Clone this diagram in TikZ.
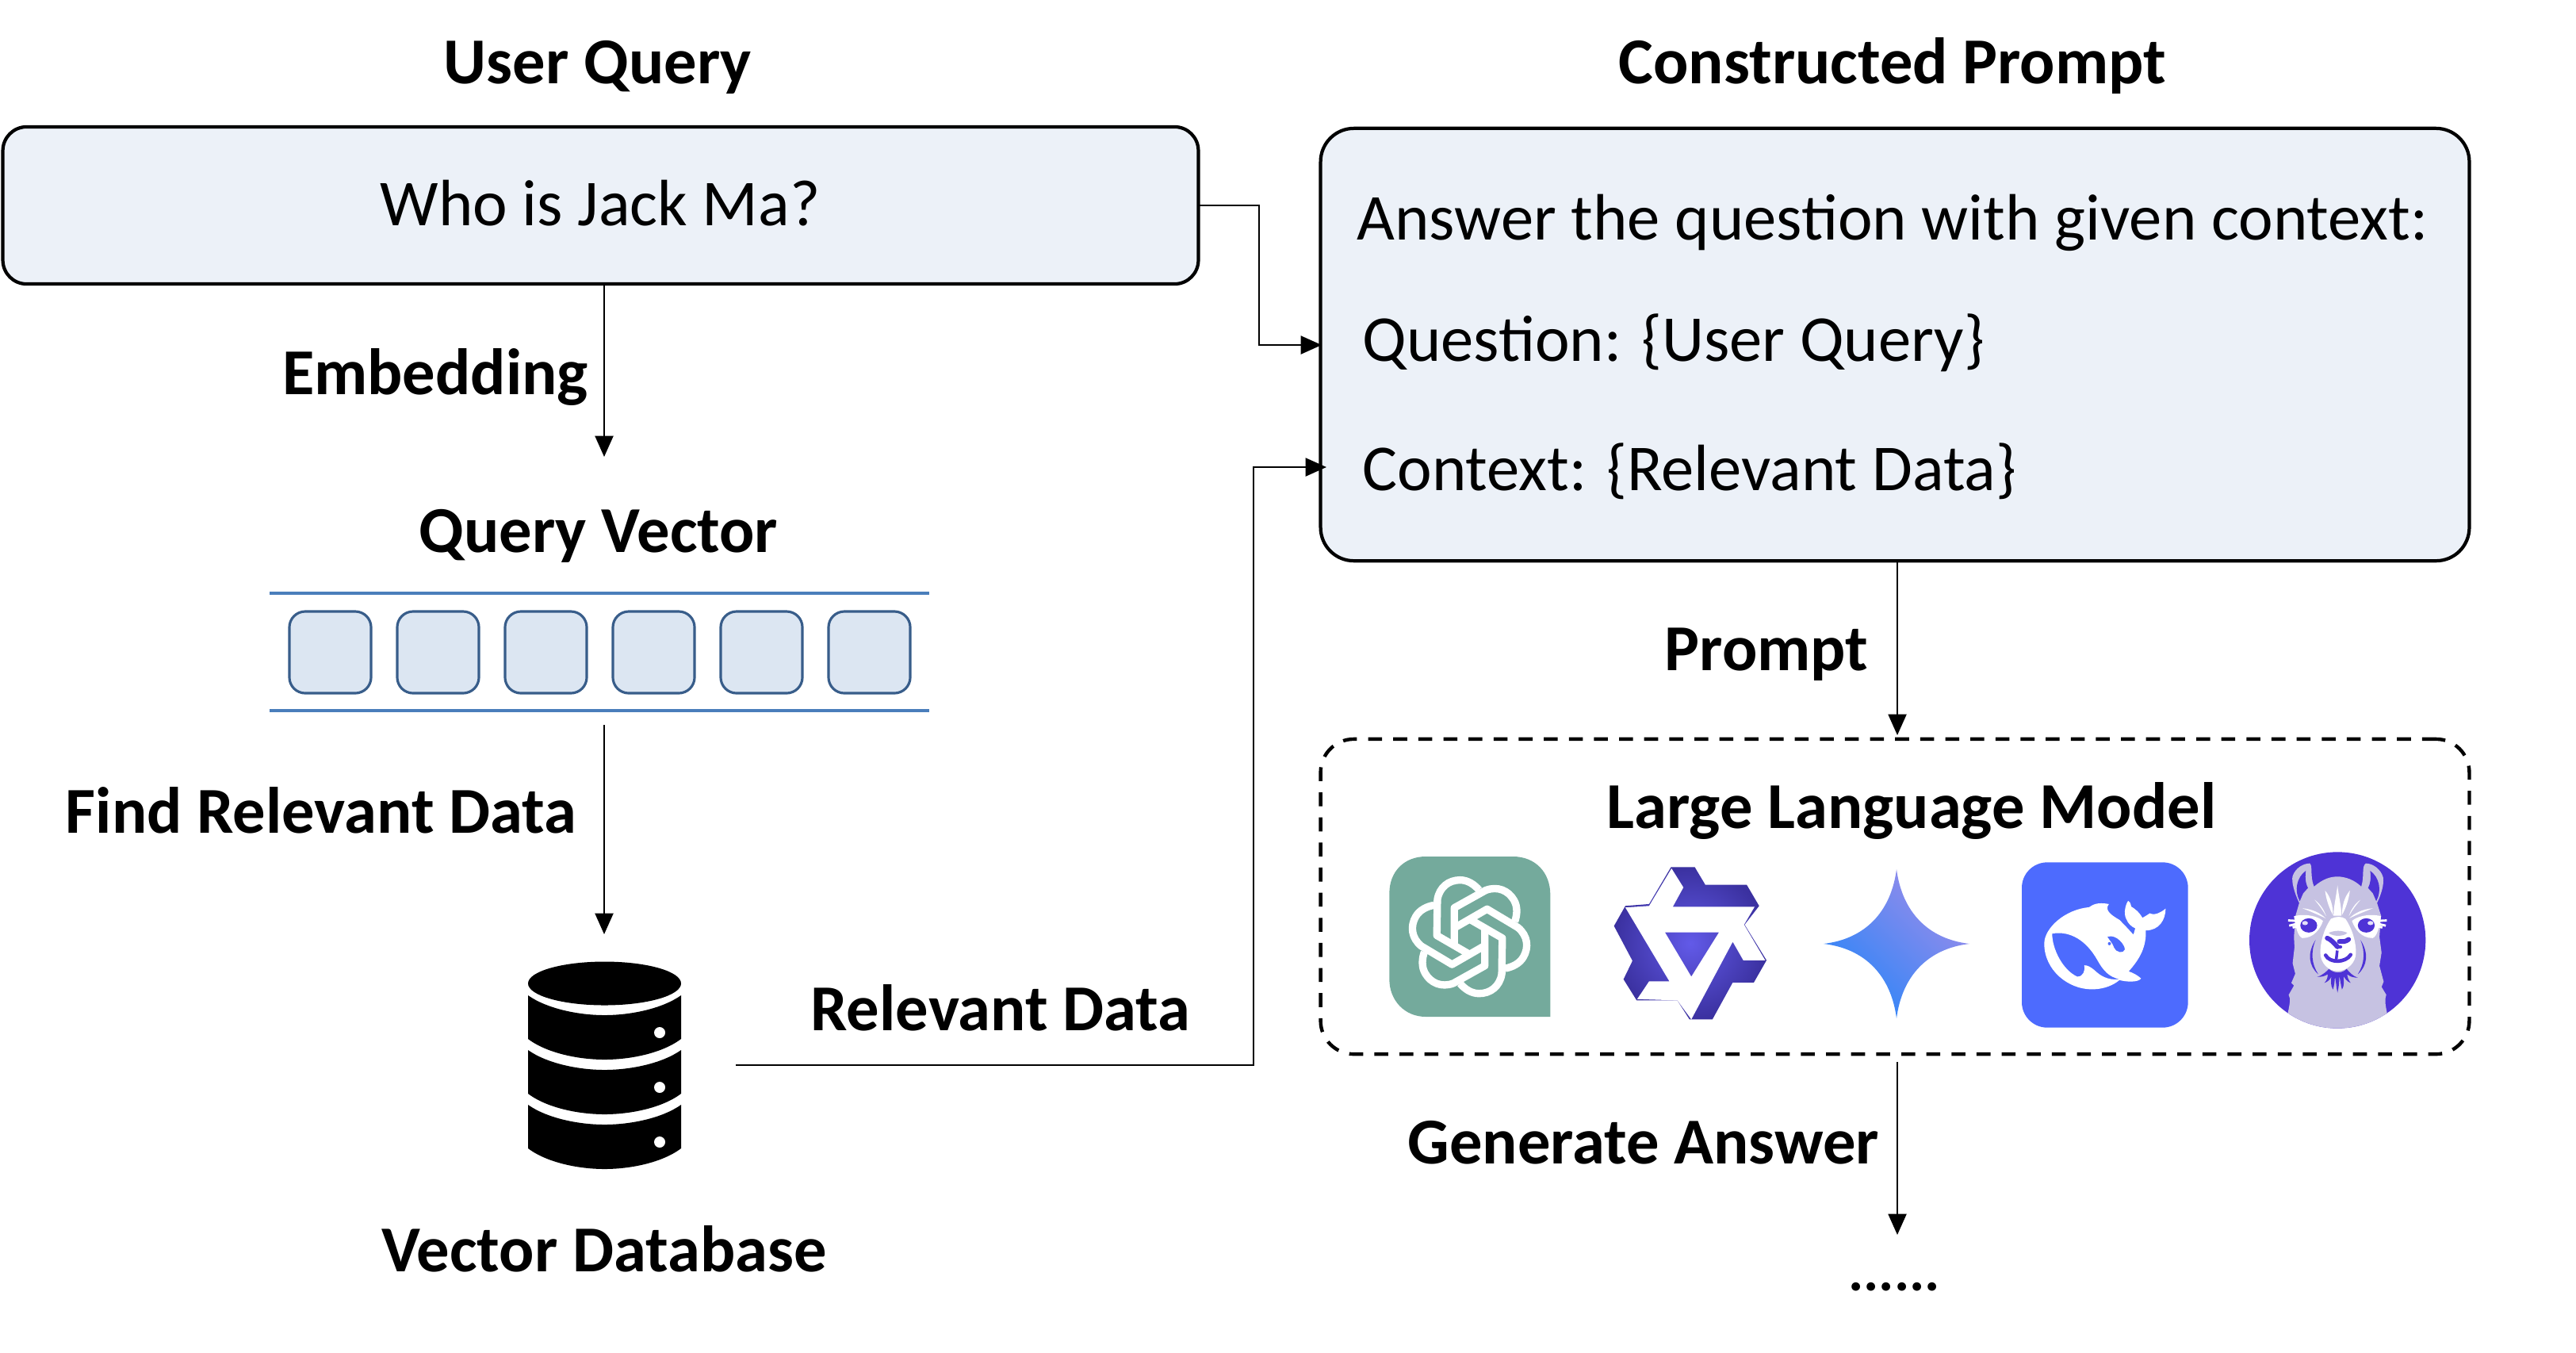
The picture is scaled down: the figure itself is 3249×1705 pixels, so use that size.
\documentclass[tikz,border=0pt]{standalone}
\usepackage{fontspec}
\setmainfont{Carlito}
\usetikzlibrary{arrows.meta}
\definecolor{boxfill}{HTML}{ECF1F8}
\definecolor{barblue}{HTML}{4A7EBB}
\definecolor{celledge}{HTML}{385D8A}
\definecolor{cellfill}{HTML}{DCE6F2}
\definecolor{gptgreen}{HTML}{74AA9C}
\definecolor{qwenin}{HTML}{625AE8}
\definecolor{qwenout}{HTML}{3B31A0}
\definecolor{gemblue}{HTML}{2A85F8}
\definecolor{gemviolet}{HTML}{9A8CEA}
\definecolor{dsblue}{HTML}{4D6BFE}
\definecolor{llamapurple}{HTML}{4E33D6}
\definecolor{llamagray}{HTML}{C6C2E2}
\tikzset{
  bigbox/.style={draw=black,line width=1.2pt,fill=boxfill,inner sep=0pt,outer sep=0pt},
  dashbox/.style={draw=black,line width=1.25pt,dash pattern=on 5pt off 4pt,inner sep=0pt,outer sep=0pt},
  cellbox/.style={draw=celledge,line width=0.9pt,fill=cellfill,rounded corners=0.2cm,minimum width=1.03cm,minimum height=1.03cm,inner sep=0pt,outer sep=0pt},
  bartxt/.style={inner sep=0pt,anchor=base},
  plain/.style={bartxt,font=\fontsize{23.5}{28}\selectfont},
  head/.style={bartxt,font=\fontsize{23.5}{28}\selectfont\bfseries},
  conn/.style={draw=black,line width=0.75pt,-{Triangle[length=7.5pt,width=6.5pt]}},
  bar/.style={draw=barblue,line width=1.4pt},
  iconscope/.style={x=0.003333cm,y=-0.003333cm},
}
\begin{document}
\begin{tikzpicture}[x=0.01cm,y=-0.01cm]
\useasboundingbox (0,0) rectangle (3249,1705);
% boxes
\node[bigbox,rounded corners=0.3cm,minimum width=15.07cm,minimum height=1.98cm] (user) at (757.5,259) {};
\node[bigbox,rounded corners=0.42cm,minimum width=14.48cm,minimum height=5.45cm] (prompt) at (2390,434.5) {};
\node[dashbox,rounded corners=0.42cm,minimum width=14.48cm,minimum height=3.97cm] (llm) at (2390,1130.5) {};
% titles
\node[head] (t1) at (754,105) {User Query};
\node[head] (t2) at (2387,105) {Constructed Prompt};
\node[plain] (q) at (757,284) {Who is Jack Ma?};
\node[plain,anchor=base west] (p1) at (1711,302) {Answer the question with given context:};
\node[plain,anchor=base west] (p2) at (1718,455) {Question: \{User Query\}};
\node[plain,anchor=base west] (p3) at (1718,618) {Context: \{Relevant Data\}};
\node[head] (l1) at (549,497) {Embedding};
\node[head] (l2) at (755,696) {Query Vector};
\node[head] (l3) at (405,1050) {Find Relevant Data};
\node[head] (l4) at (1262,1299) {Relevant Data};
\node[head] (l5) at (762,1603) {Vector Database};
\node[head] (l6) at (2228,845) {Prompt};
\node[head] (l7) at (2411,1044) {Large Language Model};
\node[head] (l8) at (2073,1467) {Generate Answer};
\node[head,font=\fontsize{20.5}{25}\selectfont\bfseries] (l9) at (2389,1627) {......};
% vector
\draw[bar] (340,748) coordinate (bl1) -- (1172,748) coordinate (bl2);
\draw[bar] (340,896) coordinate (bl3) -- (1172,896) coordinate (bl4);
\foreach \i in {0,...,5}{
  \node[cellbox] (c\i) at ({416.5+136*\i},822.5) {};
}
% connector ends
\coordinate (vtop) at (762,576);
\coordinate (vstart) at (762,914);
\coordinate (dbin) at (762,1178);
\coordinate (dbout) at (928,1343);
\coordinate (pq) at (1667,435);
\coordinate (pc) at (1673,589);
\coordinate (llmtop) at (2393,927);
\coordinate (llmout) at (2393,1339);
\coordinate (ansend) at (2393,1557);
\coordinate (e1) at (1588,259);
\coordinate (e2) at (1581,1343);
\draw[conn] (user.south -| vtop) -- (vtop);
\draw[conn] (vstart) -- (dbin);
\draw[conn] (user.east) -- (e1) -- (e1 |- pq) -- (pq);
\draw[conn] (dbout) -- (e2) -- (e2 |- pc) -- (pc);
\draw[conn] (prompt.south -| llmtop) -- (llmtop);
\draw[conn] (llmout) -- (ansend);
% database
\fill[black] (762.5,1240) ellipse [x radius=96.5,y radius=27.5];
\foreach \d in {0,69,138}{
  \fill[black] (666,1255+\d) .. controls (690,1272+\d) and (730,1280+\d) .. (762.5,1280+\d)
    .. controls (795,1280+\d) and (835,1272+\d) .. (859,1255+\d) -- (859,1310+\d)
    .. controls (835,1328+\d) and (795,1336+\d) .. (762.5,1336+\d)
    .. controls (730,1336+\d) and (690,1328+\d) .. (666,1310+\d) -- cycle;
  \fill[white] (832,1302+\d) circle [radius=7];
}
% ChatGPT icon
\begin{scope}[shift={(1745,1075)},iconscope]
  \fill[gptgreen] (22,155) .. controls (22,70) and (80,15) .. (160,15) -- (490,15)
    .. controls (575,15) and (632,75) .. (632,160) -- (632,622) -- (160,622)
    .. controls (80,622) and (22,560) .. (22,480) -- cycle;
  \foreach \a in {0,60,...,300}{
    \draw[white,line width=2.65pt,line join=round,rotate around={\a:(326,319)}]
      (362,142) .. controls (345,122) and (320,104) .. (290,104)
      .. controls (248,104) and (212,130) .. (204,178) -- (202,314) -- (323,384);
  }
\end{scope}
% Qwen icon
\begin{scope}[shift={(2025,1085)},iconscope]
  \shade[inner color=qwenin,outer color=qwenout]
    (248,25) -- (338,25) -- (378,92) -- (535,92) -- (582,172) -- (527,243) -- (610,378)
    -- (562,462) -- (482,462) -- (405,602) -- (318,602) -- (272,530) -- (118,530)
    -- (68,450) -- (102,380) -- (32,248) -- (75,172) -- (165,165) -- cycle;
  \fill[white,even odd rule]
    (250,30) -- (295,102) -- (255,175) -- (565,175) -- (525,243) -- (605,378) -- (522,378)
    -- (482,308) -- (325,602) -- (272,530) -- (120,525) -- (165,458) -- (242,458)
    -- (75,178) -- (165,172) -- cycle
    (225,272) -- (430,272) -- (325,440) -- cycle;
\end{scope}
% Gemini icon
\begin{scope}[shift={(2392,1190)},x=0.01cm,y=-0.01cm]
  \shade[bottom color=gemblue,top color=gemviolet,shading angle=-45]
    (0,-94) .. controls (7,-40) and (40,-6) .. (92,0)
    .. controls (40,6) and (7,40) .. (0,94)
    .. controls (-7,40) and (-40,6) .. (-92,0)
    .. controls (-40,-6) and (-7,-40) .. (0,-94) -- cycle;
\end{scope}
% DeepSeek icon
\begin{scope}[shift={(2545,1080)},iconscope]
  \fill[dsblue,rounded corners=0.32cm] (15,22) rectangle (645,648);
  \fill[white,even odd rule]
    (345,180) .. controls (300,172) and (285,182) .. (270,192)
    .. controls (180,200) and (100,270) .. (100,330)
    .. controls (100,430) and (190,503) .. (280,503)
    .. controls (330,503) and (365,485) .. (385,468)
    .. controls (410,475) and (455,478) .. (467,462)
    .. controls (455,450) and (435,440) .. (420,435)
    .. controls (465,385) and (487,340) .. (485,280)
    .. controls (535,280) and (560,240) .. (560,197)
    .. controls (545,210) and (520,225) .. (500,215)
    .. controls (490,222) and (480,228) .. (472,232)
    .. controls (460,210) and (440,195) .. (430,190)
    .. controls (427,175) and (422,168) .. (418,168)
    .. controls (408,180) and (400,215) .. (410,235)
    .. controls (418,255) and (430,265) .. (445,272)
    -- (438,296)
    .. controls (410,265) and (395,250) .. (385,240)
    .. controls (360,225) and (325,205) .. (345,180) -- cycle
    (130,292) .. controls (200,280) and (260,320) .. (300,390)
    .. controls (325,435) and (345,455) .. (385,465)
    .. controls (340,470) and (310,450) .. (290,430)
    .. controls (275,418) and (265,412) .. (252,412)
    .. controls (255,430) and (250,455) .. (225,455)
    .. controls (170,430) and (130,350) .. (130,292) -- cycle;
  \fill[dsblue] (340,304) .. controls (375,292) and (408,340) .. (405,352)
    .. controls (400,368) and (375,365) .. (365,345)
    .. controls (358,325) and (345,315) .. (340,304) -- cycle;
  \fill[dsblue] (347,330) circle [radius=6];
\end{scope}
% Llama icon
\begin{scope}[shift={(2830,1068)},iconscope]
  \fill[llamapurple] (355,353) circle [radius=334];
  \begin{scope}
    \clip (355,353) circle [radius=334];
    \fill[llamagray] (165,640) .. controls (172,600) and (180,575) .. (170,560)
      -- (190,525) -- (180,515) -- (195,480) -- (185,440) -- (192,380) -- (190,340) -- (196,260)
      -- (210,212) .. controls (190,170) and (180,130) .. (185,110)
      .. controls (195,80) and (225,62) .. (250,62)
      .. controls (262,70) and (250,110) .. (266,150)
      .. controls (300,120) and (330,112) .. (355,112)
      .. controls (385,112) and (420,125) .. (445,150)
      .. controls (458,110) and (445,75) .. (462,62)
      .. controls (490,62) and (520,85) .. (528,115)
      .. controls (532,145) and (520,180) .. (505,212)
      -- (520,260) -- (514,340) -- (522,400) -- (514,450) -- (530,510) -- (522,530) -- (540,560)
      .. controls (532,580) and (538,605) .. (545,640) -- (545,700) -- (165,700) -- cycle;
    % ears
    \fill[llamapurple] (212,205) .. controls (190,165) and (200,115) .. (235,90)
      .. controls (230,125) and (238,145) .. (243,155) -- (225,175) -- cycle;
    \fill[llamapurple] (502,205) .. controls (524,165) and (514,115) .. (479,90)
      .. controls (484,125) and (476,145) .. (471,155) -- (489,175) -- cycle;
    % white forehead streaks
    \fill[white] (355,145) .. controls (350,190) and (340,225) .. (340,260) -- (370,260)
      .. controls (370,225) and (360,190) .. (355,145) -- cycle;
    \fill[white] (308,165) .. controls (330,190) and (338,225) .. (338,258) .. controls (325,235) and (312,200) .. (308,165) -- cycle;
    \fill[white] (402,165) .. controls (380,190) and (372,225) .. (372,258) .. controls (385,235) and (398,200) .. (402,165) -- cycle;
    \fill[white] (268,200) .. controls (290,215) and (305,240) .. (312,262) .. controls (300,240) and (285,220) .. (268,200) -- cycle;
    \fill[white] (442,200) .. controls (420,215) and (405,240) .. (398,262) .. controls (410,240) and (425,220) .. (442,200) -- cycle;
    \fill[white] (222,232) .. controls (260,235) and (290,250) .. (310,270) .. controls (285,258) and (255,245) .. (222,232) -- cycle;
    \fill[white] (490,232) .. controls (450,235) and (420,250) .. (400,270) .. controls (425,258) and (455,245) .. (490,232) -- cycle;
    % muzzle
    \fill[white] (290,400) .. controls (290,350) and (310,300) .. (330,272)
      .. controls (350,262) and (370,262) .. (385,272)
      .. controls (405,300) and (425,350) .. (425,400)
      .. controls (425,440) and (390,470) .. (355,470)
      .. controls (320,470) and (290,440) .. (290,400) -- cycle;
    \fill[llamagray] (322,325) .. controls (345,315) and (370,315) .. (392,325)
      .. controls (380,340) and (335,340) .. (322,325) -- cycle;
    % eye patches and lashes
    \fill[white] (190,262) .. controls (240,250) and (285,265) .. (300,280)
      .. controls (290,310) and (265,345) .. (222,345)
      .. controls (205,340) and (195,300) .. (190,262) -- cycle;
    \fill[white] (520,262) .. controls (470,250) and (425,265) .. (410,280)
      .. controls (420,310) and (445,345) .. (488,345)
      .. controls (505,340) and (515,300) .. (520,262) -- cycle;
    \draw[white,line width=0.8pt] (205,280) -- (168,278) (205,290) -- (172,298) (212,298) -- (185,305);
    \draw[white,line width=0.8pt] (505,280) -- (542,278) (505,290) -- (538,298) (498,298) -- (525,305);
    % eyes
    \fill[llamapurple] (246,297) ellipse [x radius=32,y radius=27];
    \fill[llamapurple] (464,297) ellipse [x radius=32,y radius=27];
    \fill[white!85!llamapurple] (232,288) ellipse [x radius=11,y radius=8];
    \fill[white!85!llamapurple] (480,288) ellipse [x radius=11,y radius=8];
    % nose and mouth
    \draw[llamapurple,line width=1.7pt,line cap=round] (316,345) .. controls (330,350) and (340,362) .. (355,378);
    \draw[llamapurple,line width=1.7pt,line cap=round] (397,350) .. controls (385,360) and (375,358) .. (362,358);
    \draw[llamapurple,line width=1.3pt,line cap=round] (355,378) -- (366,378);
    \draw[llamapurple,line width=1.3pt,line cap=round] (310,410) .. controls (325,440) and (385,440) .. (405,408);
    \draw[llamapurple,line width=1pt] (354,392) -- (350,428);
    % jaw lines
    \fill[llamapurple] (272,352) .. controls (240,400) and (245,450) .. (282,482)
      .. controls (258,445) and (252,400) .. (272,352) -- cycle;
    \fill[llamapurple] (442,352) .. controls (474,400) and (469,450) .. (432,482)
      .. controls (456,445) and (462,400) .. (442,352) -- cycle;
    % beard
    \fill[llamapurple] (278,492) .. controls (300,485) and (315,470) .. (322,462) .. controls (345,480) and (370,480) .. (390,462)
      .. controls (400,475) and (415,490) .. (432,495) .. controls (415,495) and (400,490) .. (392,482)
      .. controls (392,495) and (398,505) .. (405,515) .. controls (390,510) and (382,495) .. (378,490)
      .. controls (378,510) and (382,525) .. (372,540) .. controls (368,525) and (366,505) .. (362,490)
      .. controls (362,510) and (360,530) .. (355,552) .. controls (350,530) and (350,510) .. (345,490)
      .. controls (345,510) and (342,525) .. (338,540) .. controls (328,525) and (330,505) .. (332,490)
      .. controls (328,500) and (320,510) .. (305,515) .. controls (315,505) and (318,495) .. (318,482)
      .. controls (305,490) and (295,492) .. (278,492) -- cycle;
  \end{scope}
\end{scope}
\end{tikzpicture}
\end{document}
